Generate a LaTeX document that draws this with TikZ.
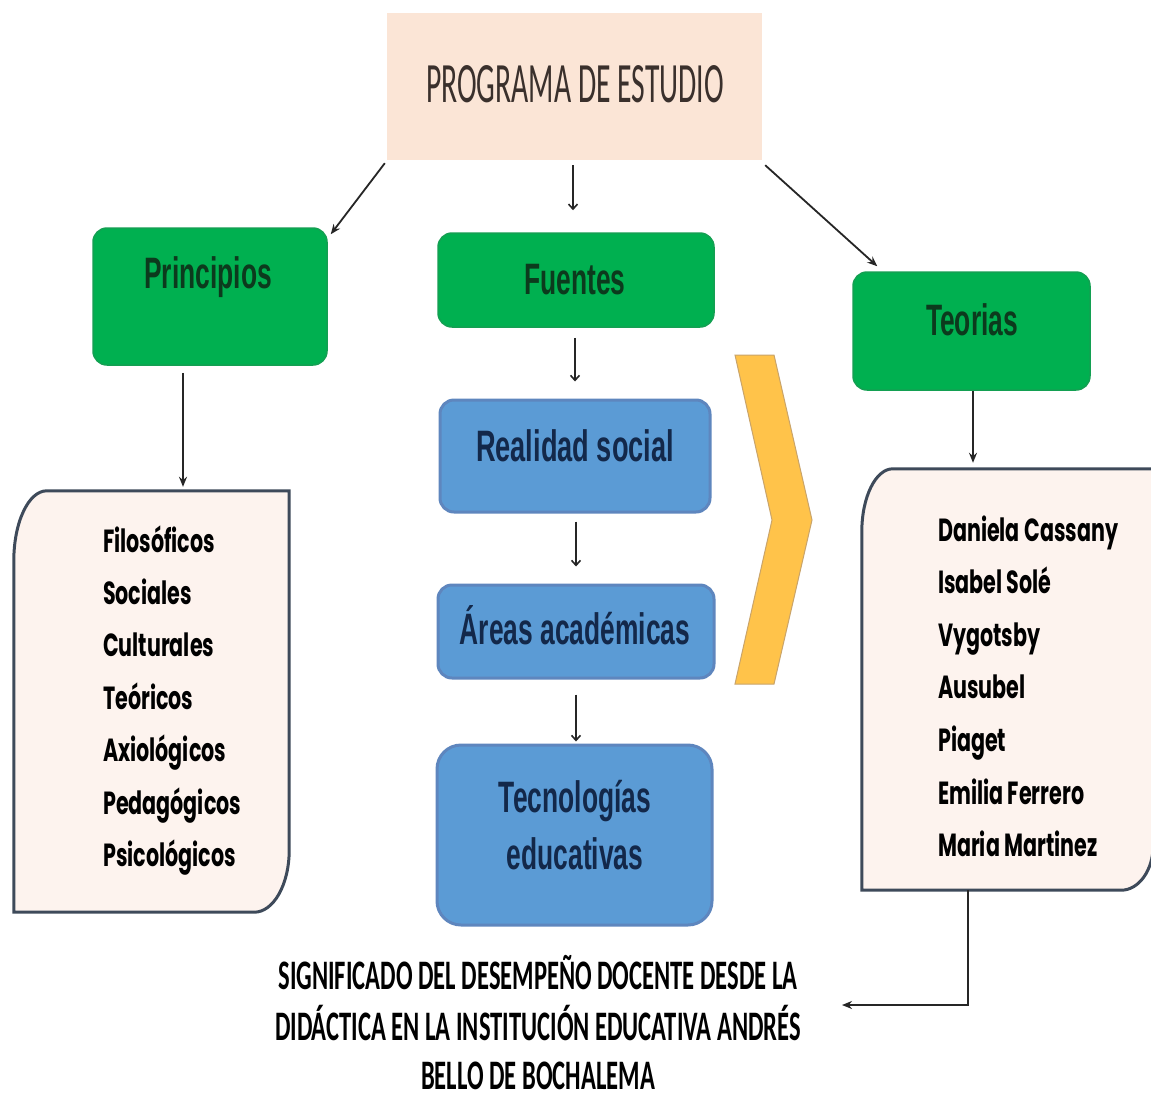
\documentclass[tikz,border=0pt]{standalone}
\usepackage{fontspec}
\setmainfont{Liberation Sans}
\newfontfamily\titlefont{Carlito}
\newfontfamily\boxfont{Liberation Sans}
\newfontfamily\listfont{Poppins}
\usetikzlibrary{arrows.meta}
\definecolor{peach}{HTML}{FBE5D6}
\definecolor{gfill}{HTML}{00B050}
\definecolor{gedge}{HTML}{13A052}
\definecolor{gtext}{HTML}{0C3A1D}
\definecolor{bfill}{HTML}{5B9BD5}
\definecolor{bedge}{HTML}{5E86BE}
\definecolor{btext}{HTML}{13284A}
\definecolor{lfill}{HTML}{FDF3EE}
\definecolor{ledge}{HTML}{3E4A5A}
\definecolor{chev}{HTML}{FFC34A}
\definecolor{chevedge}{HTML}{C9A46A}
\definecolor{titlegray}{HTML}{3A302C}
\tikzset{
  greenbox/.style={rectangle, rounded corners=14pt, fill=gfill, draw=gedge, line width=1.5pt, inner sep=0pt},
  bluebox/.style={rectangle, rounded corners=14pt, fill=bfill, draw=bedge, line width=3pt, inner sep=0pt},
  glabel/.style={font=\boxfont\bfseries\fontsize{44}{44}\selectfont, text=gtext, xscale=0.6, anchor=base, inner sep=0pt},
  blabel/.style={font=\boxfont\bfseries\fontsize{44}{44}\selectfont, text=btext, xscale=0.6, anchor=base, inner sep=0pt},
  ltext/.style={font=\listfont\bfseries\fontsize{32}{32}\selectfont, text=black, xscale=0.645, anchor=base west, inner sep=0pt},
  bottomtext/.style={font=\titlefont\bfseries\fontsize{42}{42}\selectfont, text=black, xscale=0.585, anchor=base, inner sep=0pt},
  listbox/.style={fill=lfill, draw=ledge, line width=3pt},
  arr/.style={-{Stealth[length=10pt,width=8pt]}, line width=1.8pt, draw=black!85},
  varr/.style={-{Straight Barb[length=5pt,width=9pt]}, line width=1.6pt, draw=black!85},
}
\begin{document}
\begin{tikzpicture}[x=1pt,y=-1pt]
\useasboundingbox[fill=white] (0,0) rectangle (1151,1100);

% top box
\node[rectangle, fill=peach, minimum width=375pt, minimum height=147pt, inner sep=0pt] (top) at (574.5,86.5) {};
\node[font=\titlefont\fontsize{57}{57}\selectfont, text=titlegray, xscale=0.52, anchor=base, inner sep=0pt] (toplabel) at (575,102) {PROGRAMA DE ESTUDIO};

% green boxes
\node[greenbox, minimum width=234pt, minimum height=137pt] (princ) at (210,296.5) {};
\node[glabel] (princlabel) at (208,288) {Principios};
\node[greenbox, minimum width=276pt, minimum height=94pt] (fuentes) at (576,280) {};
\node[glabel] (fuenteslabel) at (575,294) {Fuentes};
\node[greenbox, minimum width=237pt, minimum height=118pt] (teorias) at (971.5,331) {};
\node[glabel] (teoriaslabel) at (972,335) {Teorias};

% blue boxes
\node[bluebox, minimum width=270pt, minimum height=112pt] (real) at (575,456) {};
\node[blabel, xscale=1.03] (reallabel) at (575,461) {Realidad social};
\node[bluebox, minimum width=276pt, minimum height=93pt] (areas) at (576,631.5) {};
\node[blabel] (areaslabel) at (575,644) {Áreas académicas};
\node[bluebox, rounded corners=24pt, minimum width=275pt, minimum height=180pt] (tec) at (574.5,835) {};
\node[blabel] (teclabel1) at (575,812) {Tecnologías};
\node[blabel] (teclabel2) at (575,869) {educativas};

% chevron
\filldraw[fill=chev, draw=chevedge, line width=1pt] (735,355) -- (774,355) -- (812,520) -- (774,684) -- (735,684) -- (772,520) -- cycle;

% list boxes
\node[minimum width=275pt, minimum height=421pt, inner sep=0pt] (llist) at (151.5,701.5) {};
\draw[listbox] (llist.south west) -- ([yshift=-70pt]llist.north west)
  arc[start angle=180, end angle=90, x radius=33pt, y radius=70pt]
  -- (llist.north east) -- ([yshift=62pt]llist.south east)
  arc[start angle=0, end angle=-90, x radius=35pt, y radius=62pt] -- cycle;
\node[minimum width=291pt, minimum height=421pt, inner sep=0pt] (rlist) at (1007.5,679.5) {};
\draw[listbox] (rlist.south west) -- ([yshift=-63pt]rlist.north west)
  arc[start angle=180, end angle=90, x radius=31pt, y radius=63pt]
  -- (rlist.north east) -- ([yshift=45pt]rlist.south east)
  arc[start angle=0, end angle=-90, x radius=32pt, y radius=45pt] -- cycle;

\foreach \t [count=\i from 0] in {Filosóficos, Sociales, Culturales, Teóricos, Axiológicos, Pedagógicos, Psicológicos}
  \node[ltext] (lp\i) at (103,{552+52.4*\i}) {\t};
\foreach \t [count=\i from 0] in {Daniela Cassany, Isabel Solé, Vygotsby, Ausubel, Piaget, Emilia Ferrero, Maria Martinez}
  \node[ltext] (rt\i) at (938,{541+52.6*\i}) {\t};

% bottom text
\node[bottomtext] (b1) at (538,989) {SIGNIFICADO DEL DESEMPEÑO DOCENTE DESDE LA};
\node[bottomtext] (b2) at (538,1040) {DIDÁCTICA EN LA INSTITUCIÓN EDUCATIVA ANDRÉS};
\node[bottomtext] (b3) at (538,1089) {BELLO DE BOCHALEMA};
\coordinate (tipend) at (842,1005);

% connectors
\draw[arr] ([xshift=-2pt,yshift=-3pt]top.south west) -- ([xshift=3pt,yshift=-7pt]princ.north east);
\draw[varr] ([xshift=-1.5pt,yshift=-5pt]top.south) -- ([xshift=-3pt,yshift=22pt]fuentes.north);
\draw[arr] ([xshift=3pt,yshift=-5pt]top.south east) -- ([xshift=25pt,yshift=5pt]teorias.north west);
\draw[arr] ([xshift=-27pt,yshift=-7pt]princ.south) -- ([xshift=31.5pt,yshift=4pt]llist.north);
\draw[varr] ([xshift=-1pt,yshift=-10pt]fuentes.south) -- ([yshift=17pt]real.north);
\draw[varr] ([xshift=1pt,yshift=-8pt]real.south) -- ([yshift=17pt]areas.north);
\draw[varr] ([yshift=-15pt]areas.south) -- ([xshift=1.5pt,yshift=2pt]tec.north);
\draw[arr] ([xshift=1.5pt]teorias.south) -- ([xshift=-34.5pt,yshift=6pt]rlist.north);
\draw[arr] ([xshift=-39.5pt]rlist.south) |- (tipend);
\end{tikzpicture}
\end{document}
